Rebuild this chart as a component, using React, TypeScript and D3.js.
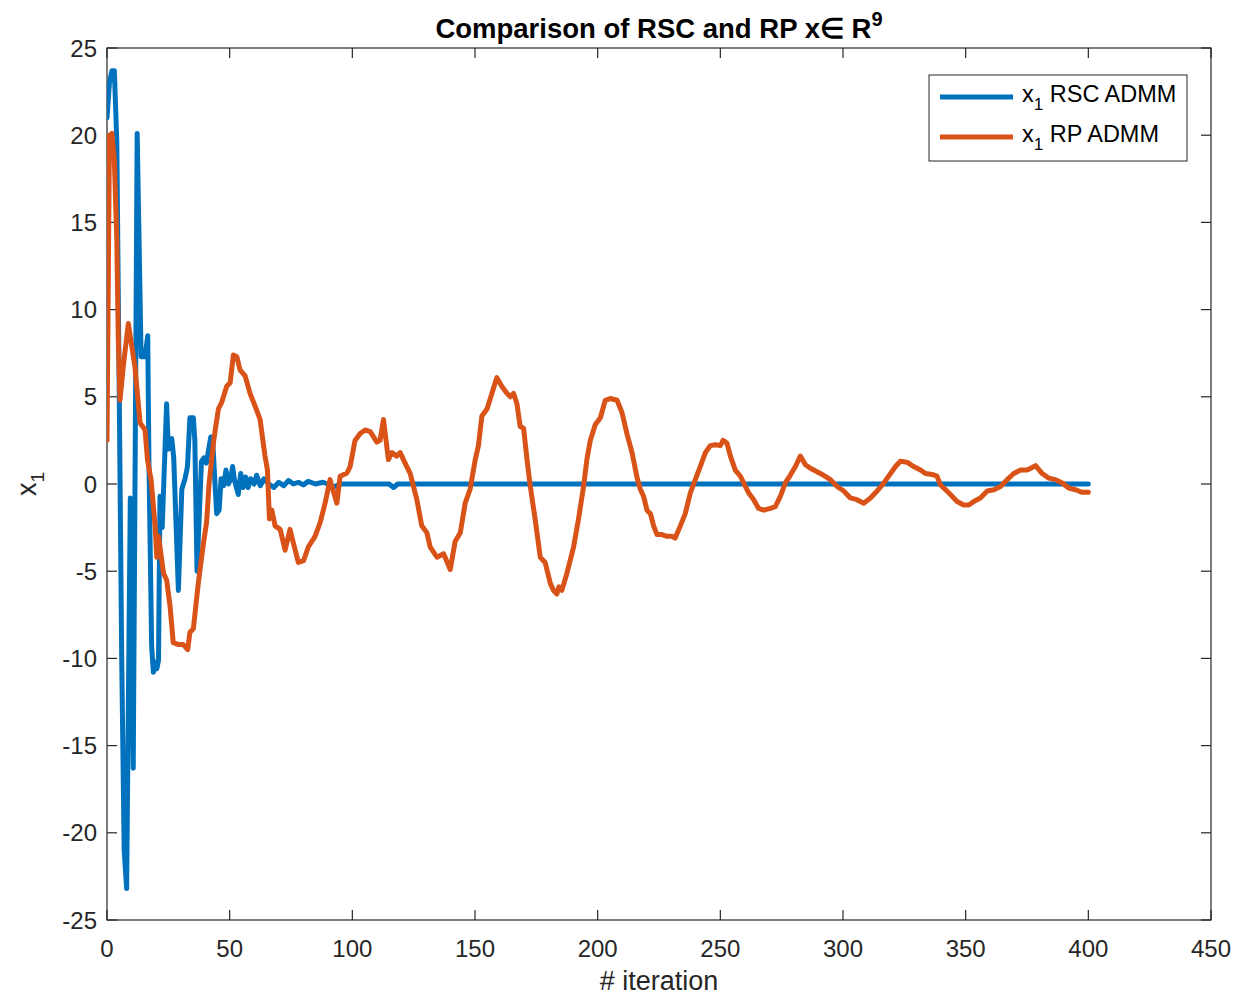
import React from 'react';
import * as d3 from 'd3';

// Iteration positions and values (RSC ADMM, blue)
const rscIter = [0, 1, 2, 3, 4, 5, 6, 7, 8, 9.5, 10.7, 12.3, 13.9, 15.5, 16.6, 17.1, 18.2, 18.9, 19.6, 20.3, 21.0, 21.6, 22.5, 24.3, 25.0, 26.4, 27.2, 29.1, 30.5, 31.8, 32.8, 33.8, 35.2, 35.8, 36.7, 38.5, 39.5, 40.5, 42.3, 43.0, 44.7, 45.7, 46.5, 47.5, 48.5, 49.5, 50.5, 51.2, 52.0, 53.5, 54.5, 55.5, 56.5, 57.5, 58.5, 60, 61, 62.5, 64, 66, 68, 70, 72, 74, 76, 78, 80, 82, 85, 88, 90, 92, 95, 110, 115, 116.8, 118.5, 400];
const rscVal = [21, 23.0, 23.7, 23.7, 19.6, 5, -10, -21, -23.2, -0.8, -16.3, 20.1, 7.3, 7.3, 8.5, 1.2, -9.3, -10.8, -10.2, -10.6, -10.1, -0.7, -2.5, 4.6, 2.0, 2.6, 1.5, -6.1, -0.3, 0.3, 1.0, 3.8, 3.8, 2.5, -5.0, 1.3, 1.5, 1.2, 2.7, 2.7, -1.7, -1.5, 0.3, -0.1, 0.8, 0.0, 0.3, 1.0, 0.2, -0.6, 0.6, -0.2, 0.4, -0.2, 0.3, 0.0, 0.5, -0.1, 0.3, 0.0, -0.2, 0.1, -0.1, 0.2, 0.0, 0.1, -0.05, 0.15, 0.0, 0.1, 0.0, -0.2, 0.0, 0.0, 0.0, -0.2, 0.0, 0.0];

// Iteration positions and values (RP ADMM, orange)
const rpIter = [0, 1, 2, 3, 4, 4.6, 5.3, 6.6, 8.7, 10.1, 11.4, 13.5, 15.5, 16.5, 18, 19.6, 20.3, 21, 21.6, 23, 24.3, 25.7, 27, 29, 31, 32.9, 33.8, 35.2, 37.2, 39.3, 40.6, 41.6, 43.5, 45.4, 46.8, 48.8, 50.2, 51.5, 52.9, 54.2, 56.3, 58.3, 60.4, 62.4, 64.4, 65.4, 66.2, 67.2, 68.5, 70.6, 72.6, 74.6, 76, 78, 80.1, 82.1, 84.8, 86.9, 88.9, 90.9, 93.7, 95, 97.8, 99.1, 101.1, 103.2, 105.2, 107.3, 110, 111.3, 112.7, 114.7, 116.1, 118.1, 119.5, 121.5, 123.6, 126.3, 128.3, 130.4, 131.7, 134.5, 137.2, 139.9, 141.9, 144, 146, 148, 150.1, 151.4, 152.8, 154.9, 156.9, 158.9, 160.9, 163, 164.4, 165.7, 167.1, 168.4, 169.8, 171.2, 172.5, 174.5, 176.6, 178.6, 180.7, 182, 183.4, 184.2, 185.4, 187.5, 190.2, 192.2, 194.3, 195.6, 197, 199, 201.1, 203.1, 205.1, 207.9, 209.9, 211.9, 214, 216, 217.4, 218.7, 220.1, 221.5, 222.8, 224.2, 226.2, 228.3, 230.3, 231.6, 233.7, 235.7, 237.8, 239.8, 241.8, 243.9, 245.9, 248, 250, 251.1, 252.7, 254.1, 256.1, 258.2, 259.5, 261.5, 263.6, 265.6, 267.7, 270.4, 272.4, 274.5, 276.5, 278.5, 280.6, 282.6, 284.7, 286.7, 289.4, 292.1, 294.9, 297.6, 300.3, 303, 305.7, 308.4, 311.2, 313.9, 316.6, 318.6, 321.4, 323.4, 326.1, 328.8, 331.6, 333.6, 336.3, 338.3, 339.7, 341.8, 343.8, 346.5, 349.2, 351.3, 353.3, 356, 358.8, 361.5, 364.2, 366.9, 369.6, 372.4, 375.1, 378.5, 381.2, 383.9, 386.6, 389.4, 392, 394.8, 397.5, 400];
const rpVal = [2.5, 20.0, 20.1, 18.5, 14.0, 8.3, 4.8, 6.7, 9.2, 7.9, 6.7, 3.5, 3.1, 1.4, 0.2, -2.4, -4.2, -3.0, -3.6, -5.1, -5.5, -7.0, -9.1, -9.2, -9.2, -9.5, -8.5, -8.3, -5.7, -3.4, -2.2, 0, 2.5, 4.3, 4.7, 5.6, 5.8, 7.4, 7.3, 6.55, 6.2, 5.2, 4.45, 3.7, 1.6, 0.8, -2.0, -1.5, -2.4, -2.6, -3.8, -2.6, -3.4, -4.5, -4.4, -3.6, -3.0, -2.2, -1.1, 0.25, -1.1, 0.44, 0.63, 1.0, 2.5, 2.9, 3.1, 3.0, 2.4, 2.5, 3.7, 1.4, 1.8, 1.6, 1.8, 1.2, 0.6, -0.9, -2.4, -2.8, -3.6, -4.2, -4.0, -4.9, -3.3, -2.8, -1.1, -0.3, 1.4, 2.2, 3.9, 4.3, 5.2, 6.1, 5.6, 5.2, 5.0, 5.2, 4.6, 3.3, 3.2, 1.4, -0.1, -2.0, -4.2, -4.5, -5.7, -6.1, -6.3, -5.9, -6.1, -5.1, -3.6, -2.0, -0.1, 1.4, 2.5, 3.4, 3.8, 4.8, 4.9, 4.8, 4.1, 2.9, 1.8, 0.4, -0.3, -0.7, -1.5, -1.7, -2.4, -2.9, -2.9, -3.0, -3.0, -3.1, -2.4, -1.7, -0.5, 0.25, 1.0, 1.8, 2.2, 2.25, 2.2, 2.5, 2.35, 1.6, 0.8, 0.44, 0.06, -0.5, -0.9, -1.4, -1.5, -1.4, -1.3, -0.7, 0.06, 0.5, 1.0, 1.6, 1.1, 0.9, 0.7, 0.5, 0.25, -0.14, -0.4, -0.8, -0.9, -1.1, -0.8, -0.4, 0.05, 0.45, 1.0, 1.3, 1.25, 1.0, 0.8, 0.6, 0.55, 0.45, -0.04, -0.33, -0.6, -1.0, -1.2, -1.2, -1.0, -0.8, -0.4, -0.33, -0.14, 0.25, 0.6, 0.8, 0.8, 1.05, 0.6, 0.34, 0.25, 0.06, -0.23, -0.33, -0.48, -0.48];

const xTicks = [0, 50, 100, 150, 200, 250, 300, 350, 400, 450];
const yTicks = [-25, -20, -15, -10, -5, 0, 5, 10, 15, 20, 25];

const seriesNames = ['RSC ADMM', 'RP ADMM'];
const seriesColors = ['#0072BD', '#D95319'];

const FONT = '"Liberation Sans", Arial, Helvetica, sans-serif';

export default function App() {
  const W = 1236, H = 997;
  const left = 107, right = 1211, top = 48, bottom = 920;
  const x = d3.scaleLinear().domain([0, 450]).range([left, right]);
  const y = d3.scaleLinear().domain([-25, 25]).range([bottom, top]);
  const mk = (it: number[], v: number[]) =>
    d3.line<number>()
      .x((_, i) => x(it[i]))
      .y((d) => y(d))(v) as string;
  const tickLen = 10;
  const legX = 929, legY = 75, legW = 258, legH = 86;

  return (
    <svg width={W} height={H} style={{ position: 'absolute', left: 0, top: 0, background: '#fff' }} fontFamily={FONT}>
      <rect x={0} y={0} width={W} height={H} fill="#fff" />
      <defs>
        <clipPath id="clip">
          <rect x={left} y={top} width={right - left} height={bottom - top} />
        </clipPath>
      </defs>
      {/* axes box */}
      <rect x={left} y={top} width={right - left} height={bottom - top} fill="#fff" stroke="#262626" strokeWidth={1.2} />
      {xTicks.map((t) => (
        <g key={'xt' + t}>
          <line x1={x(t)} x2={x(t)} y1={bottom} y2={bottom - tickLen} stroke="#262626" strokeWidth={1.2} />
          <line x1={x(t)} x2={x(t)} y1={top} y2={top + tickLen} stroke="#262626" strokeWidth={1.2} />
          <text x={x(t)} y={bottom + 37} textAnchor="middle" fontSize={24} fill="#262626">{t}</text>
        </g>
      ))}
      {yTicks.map((t) => (
        <g key={'yt' + t}>
          <line x1={left} x2={left + tickLen} y1={y(t)} y2={y(t)} stroke="#262626" strokeWidth={1.2} />
          <line x1={right} x2={right - tickLen} y1={y(t)} y2={y(t)} stroke="#262626" strokeWidth={1.2} />
          <text x={left - 10} y={y(t) + 8.5} textAnchor="end" fontSize={24} fill="#262626">{t}</text>
        </g>
      ))}
      {/* data */}
      <g clipPath="url(#clip)">
        <path d={mk(rscIter, rscVal)} fill="none" stroke={seriesColors[0]} strokeWidth={5} strokeLinejoin="round" strokeLinecap="round" />
        <path d={mk(rpIter, rpVal)} fill="none" stroke={seriesColors[1]} strokeWidth={5} strokeLinejoin="round" strokeLinecap="round" />
      </g>
      {/* title */}
      <text x={(left + right) / 2} y={38} textAnchor="middle" fontSize={27.5} fontWeight="bold" fill="#000">
        Comparison of RSC and RP x∈ R<tspan dy={-12} fontSize={20}>9</tspan>
      </text>
      {/* axis labels */}
      <text x={(left + right) / 2} y={990} textAnchor="middle" fontSize={27} fill="#262626"># iteration</text>
      <text transform={`translate(36,${(top + bottom) / 2}) rotate(-90)`} textAnchor="middle" fontSize={27} fill="#262626">
        x<tspan dy={8} fontSize={19}>1</tspan>
      </text>
      {/* legend */}
      <rect x={legX} y={legY} width={legW} height={legH} fill="#fff" stroke="#262626" strokeWidth={1} />
      {seriesNames.map((n, i) => (
        <g key={n}>
          <line x1={legX + 11} x2={legX + 84} y1={legY + 22 + i * 40} y2={legY + 22 + i * 40} stroke={seriesColors[i]} strokeWidth={5} />
          <text x={legX + 93} y={legY + 27 + i * 40} fontSize={23.5} fill="#000">
            x<tspan dy={8} fontSize={17}>1</tspan><tspan dy={-8}> {n}</tspan>
          </text>
        </g>
      ))}
    </svg>
  );
}
